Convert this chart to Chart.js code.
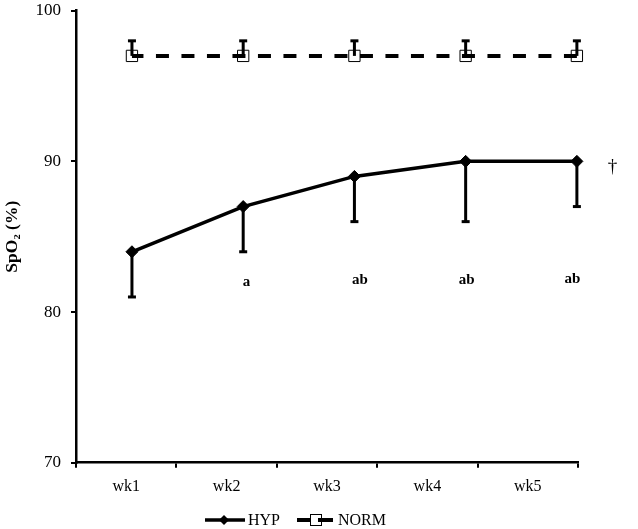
<!DOCTYPE html>
<html>
<head>
<meta charset="utf-8">
<script src="https://cdn.jsdelivr.net/npm/chart.js@4.4.1/dist/chart.umd.min.js"></script>
<style>
  html, body { margin: 0; padding: 0; background: #fff; }
  #wrap { width: 638px; height: 529px; position: relative; }
</style>
</head>
<body>
<div id="wrap"><canvas id="c" width="638" height="529"></canvas></div>
<script>
// ---- data ----
const weeks = ['wk1', 'wk2', 'wk3', 'wk4', 'wk5'];
const hypMean = [84, 87, 89, 90, 90];
const hypLower = [81, 84, 86, 86, 87];
const normMean = [97, 97, 97, 97, 97];
const normUpper = [98, 98, 98, 98, 98];
const yTicks = [70, 80, 90, 100];
const annLabels = ['a', 'ab', 'ab', 'ab'];
const annX = [1.03, 2.05, 3.01, 3.96];
const annY = [82.0, 82.1, 82.1, 82.2];
const daggerLabel = '†';
const daggerX = 4.32;
const daggerY = 89.65;

const SERIF = '"Liberation Serif", "Times New Roman", serif';

const hypPoints = weeks.map((w, i) => ({ x: i, y: hypMean[i] }));
const normPoints = weeks.map((w, i) => ({ x: i, y: normMean[i] }));

const errorBars = {
  id: 'errorBars',
  afterDatasetsDraw(chart) {
    const { ctx } = chart;
    const xs = chart.scales.xd, ys = chart.scales.y;
    ctx.save();
    ctx.strokeStyle = '#000';
    ctx.lineCap = 'butt';
    const bar = (x, y0, y1) => {
      ctx.lineWidth = 3;
      ctx.beginPath(); ctx.moveTo(x, y0); ctx.lineTo(x, y1); ctx.stroke();
      ctx.lineWidth = 3;
      ctx.beginPath(); ctx.moveTo(x - 4, y1); ctx.lineTo(x + 4, y1); ctx.stroke();
    };
    weeks.forEach((w, i) => {
      const x = xs.getPixelForValue(i);
      bar(x, ys.getPixelForValue(hypMean[i]), ys.getPixelForValue(hypLower[i]));
      bar(x, ys.getPixelForValue(normMean[i]), ys.getPixelForValue(normUpper[i]));
    });
    ctx.restore();
  }
};

const annotations = {
  id: 'annotations',
  afterDraw(chart) {
    const { ctx } = chart;
    const xs = chart.scales.xd, ys = chart.scales.y;
    ctx.save();
    ctx.fillStyle = '#000';
    ctx.textAlign = 'center';
    ctx.textBaseline = 'middle';
    ctx.font = 'bold 15px ' + SERIF;
    annLabels.forEach((t, i) => {
      ctx.fillText(t, xs.getPixelForValue(annX[i]), ys.getPixelForValue(annY[i]));
    });
    ctx.font = '19px ' + SERIF;
    ctx.fillText(daggerLabel, xs.getPixelForValue(daggerX), ys.getPixelForValue(daggerY));
    ctx.restore();
  }
};

const customLegend = {
  id: 'customLegend',
  afterDraw(chart) {
    const { ctx } = chart;
    const y = 520;
    const ds = chart.data.datasets;
    ctx.save();
    ctx.strokeStyle = '#000';
    ctx.fillStyle = '#000';
    // HYP
    ctx.lineWidth = 3.5;
    ctx.beginPath(); ctx.moveTo(205, y); ctx.lineTo(245, y); ctx.stroke();
    ctx.beginPath();
    ctx.moveTo(224, y - 5); ctx.lineTo(229, y); ctx.lineTo(224, y + 5); ctx.lineTo(219, y); ctx.closePath();
    ctx.fill();
    ctx.font = '16px ' + SERIF;
    ctx.textBaseline = 'middle';
    ctx.textAlign = 'left';
    ctx.fillText(ds[0].label, 248, y + 1);
    // NORM
    ctx.lineWidth = 4;
    ctx.beginPath(); ctx.moveTo(297, y); ctx.lineTo(310, y); ctx.stroke();
    ctx.beginPath(); ctx.moveTo(318, y); ctx.lineTo(333, y); ctx.stroke();
    ctx.lineWidth = 1;
    ctx.strokeRect(310.5, y - 5.5, 11, 11);
    ctx.fillText(ds[1].label, 338, y + 1);
    ctx.restore();
  }
};

new Chart(document.getElementById('c'), {
  type: 'line',
  data: {
    labels: weeks,
    datasets: [
      {
        label: 'HYP',
        data: hypPoints,
        xAxisID: 'xd', yAxisID: 'y',
        clip: false,
        borderColor: '#000',
        borderWidth: 3.5,
        pointStyle: 'rectRot',
        pointRadius: 6,
        pointBackgroundColor: '#000',
        pointBorderColor: '#000',
        pointBorderWidth: 1,
        tension: 0,
        fill: false
      },
      {
        label: 'NORM',
        data: normPoints,
        xAxisID: 'xd', yAxisID: 'y',
        clip: false,
        borderColor: '#000',
        borderWidth: 4,
        borderDash: [13, 12.5],
        borderDashOffset: 1.5,
        pointStyle: 'rect',
        pointRadius: 8,
        pointBackgroundColor: 'rgba(0,0,0,0)',
        pointBorderColor: '#000',
        pointBorderWidth: 1,
        tension: 0,
        fill: false
      }
    ]
  },
  options: {
    responsive: false,
    animation: false,
    devicePixelRatio: 1,
    layout: { padding: { top: 10.7, right: 60, bottom: 30, left: 0 } },
    plugins: {
      legend: { display: false },
      tooltip: { enabled: false }
    },
    scales: {
      x: {
        type: 'category',
        position: 'bottom',
        offset: true,
        grid: { display: true, drawOnChartArea: false, drawTicks: true, tickLength: 5, color: '#000', lineWidth: 2, offset: true },
        border: { display: true, color: '#000', width: 2.5 },
        ticks: { color: '#000', font: { family: SERIF, size: 16 }, padding: 9.4, maxRotation: 0 },
        afterFit(scale) { scale.height = 529 - 30 - 462.7; }
      },
      xd: {
        type: 'linear',
        display: false,
        min: -0.503,
        max: 4.01
      },
      y: {
        type: 'linear',
        min: 70,
        max: 100,
        afterBuildTicks(scale) { scale.ticks = yTicks.map(v => ({ value: v })); },
        grid: { display: true, drawOnChartArea: false, drawTicks: true, tickLength: 5, color: '#000', lineWidth: 2 },
        border: { display: true, color: '#000', width: 2.5 },
        ticks: { color: '#000', font: { family: SERIF, size: 17 }, padding: 10 },
        title: {
          display: true,
          text: 'SpO₂ (%)',
          color: '#000',
          font: { family: SERIF, size: 17.5, weight: 'bold' },
          padding: { top: 2, bottom: 0 }
        },
        afterFit(scale) { scale.width = 76; scale.paddingTop = 0; scale.paddingBottom = 0; }
      }
    }
  },
  plugins: [errorBars, annotations, customLegend]
});
</script>
</body>
</html>
